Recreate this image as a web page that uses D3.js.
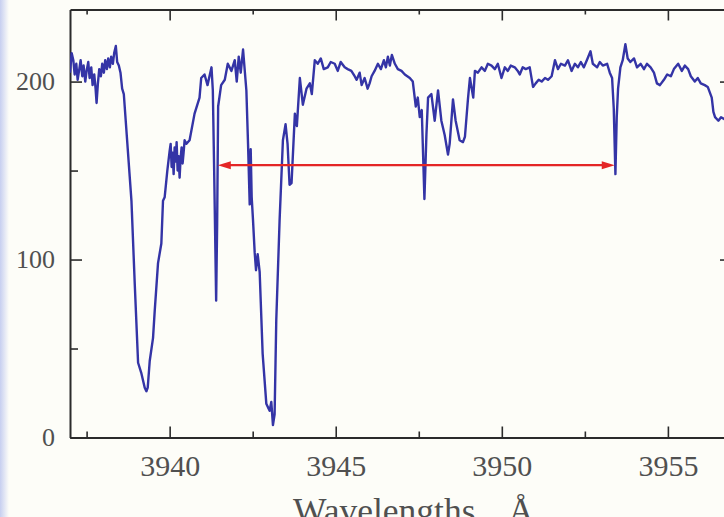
<!DOCTYPE html>
<html>
<head>
<meta charset="utf-8">
<script src="https://cdn.jsdelivr.net/npm/d3@7"></script>
<style>
  html, body { margin: 0; padding: 0; background: #fdfdf8; overflow: hidden; }
  svg { display: block; }
</style>
</head>
<body>
<svg id="chart" width="724" height="517"></svg>
<script>
// Spectrum samples: wavelength (Å) and intensity
const wavelength = [
  3937.00,3937.05,3937.10,3937.14,3937.19,3937.23,3937.28,3937.32,3937.37,3937.41,
  3937.46,3937.50,3937.55,3937.59,3937.64,3937.68,3937.73,3937.77,3937.80,3937.84,
  3937.88,3937.93,3937.97,3938.02,3938.06,3938.11,3938.15,3938.20,3938.24,3938.29,
  3938.33,3938.38,3938.42,3938.47,3938.52,3938.57,3938.62,3938.85,3938.95,3939.05,
  3939.15,3939.25,3939.30,3939.34,3939.40,3939.50,3939.55,3939.65,3939.75,3939.80,
  3939.85,3939.93,3940.00,3940.03,3940.06,3940.09,3940.12,3940.15,3940.18,3940.21,
  3940.24,3940.27,3940.30,3940.33,3940.36,3940.39,3940.42,3940.45,3940.50,3940.60,
  3940.75,3940.90,3940.95,3941.05,3941.14,3941.26,3941.30,3941.34,3941.40,3941.43,
  3941.46,3941.55,3941.66,3941.75,3941.86,3941.96,3942.02,3942.08,3942.14,3942.21,
  3942.31,3942.36,3942.41,3942.44,3942.47,3942.51,3942.56,3942.60,3942.65,3942.71,
  3942.80,3942.91,3943.01,3943.06,3943.11,3943.16,3943.21,3943.31,3943.41,3943.49,
  3943.55,3943.61,3943.67,3943.77,3943.83,3943.92,3944.01,3944.12,3944.22,3944.28,
  3944.37,3944.46,3944.55,3944.64,3944.76,3944.85,3944.97,3945.06,3945.15,3945.27,
  3945.36,3945.47,3945.57,3945.63,3945.72,3945.78,3945.87,3945.96,3946.02,3946.08,
  3946.17,3946.27,3946.36,3946.45,3946.51,3946.57,3946.63,3946.69,3946.78,3946.87,
  3946.98,3947.08,3947.23,3947.32,3947.41,3947.47,3947.53,3947.59,3947.67,3947.73,
  3947.78,3947.88,3947.98,3948.08,3948.18,3948.28,3948.38,3948.43,3948.53,3948.61,
  3948.73,3948.83,3948.89,3948.98,3949.04,3949.14,3949.19,3949.28,3949.39,3949.49,
  3949.58,3949.69,3949.79,3949.88,3949.99,3950.09,3950.18,3950.27,3950.39,3950.48,
  3950.54,3950.63,3950.72,3950.84,3950.94,3951.02,3951.11,3951.20,3951.30,3951.39,
  3951.50,3951.60,3951.69,3951.78,3951.90,3951.99,3952.10,3952.20,3952.29,3952.38,
  3952.47,3952.56,3952.67,3952.74,3952.87,3952.95,3953.04,3953.17,3953.25,3953.32,
  3953.37,3953.42,3953.46,3953.50,3953.57,3953.64,3953.72,3953.79,3953.87,3953.98,
  3954.07,3954.18,3954.28,3954.37,3954.48,3954.58,3954.67,3954.76,3954.88,3954.98,
  3955.09,3955.18,3955.31,3955.42,3955.51,3955.61,3955.69,3955.81,3955.90,3955.99,
  3956.11,3956.20,3956.32,3956.37,3956.42,3956.52,3956.60,3956.69,3956.78
];
const intensity = [
  205,216,212,204,210,201,207,212,203,209,
  200,206,211,202,208,198,204,196,188,199,
  207,203,210,205,212,207,213,208,214,210,
  216,220,211,209,205,196,193,133,86,42,
  36,28,26,28,43,56,71,98,109,133,
  135,150,161,165,152,160,148,163,155,166,
  150,158,146,157,163,154,160,167,165,167,
  182,191,202,204,198,208,195,150,77,120,
  186,198,201,210,206,212,200,214,205,218,
  195,165,131,162,135,122,104,94,103,93,
  47,19,15,20,7,13,66,122,167,176,
  165,142,143,182,175,202,187,196,199,193,
  212,210,213,207,208,211,210,206,211,208,
  207,206,203,201,205,198,202,196,199,203,
  206,210,207,212,208,214,209,215,210,207,
  206,204,202,200,186,191,180,184,134,170,
  191,193,178,195,178,170,159,165,190,178,
  167,166,169,190,202,191,206,205,208,206,
  210,209,207,210,202,208,206,209,208,206,
  204,208,207,208,197,199,201,200,202,201,
  203,212,207,210,209,212,206,210,208,211,
  208,212,217,210,208,211,209,210,205,202,
  185,148,180,196,208,212,221,213,211,213,
  208,210,207,210,208,205,199,198,201,204,
  203,207,210,206,209,207,203,200,202,199,
  198,197,191,183,180,178,180,179,180
];

// Axis ticks
const xMajorTicks = [3940, 3945, 3950, 3955];
const xMinorTicks = [3937.5, 3942.5, 3947.5, 3952.5];
const yMajorTicks = [0, 100, 200];
const yMinorTicks = [50, 150];

// Separation marker between the two absorption features
const arrowFrom = 3941.45;
const arrowTo = 3953.40;
const arrowLevel = 153;

const xDomain = [3937, 3956.93];
const yDomain = [0, 240.5];

const svg = d3.select("#chart");
const plotLeft = 70, plotRight = 732, plotTop = 9.5, plotBottom = 437.5;

const x = d3.scaleLinear().domain(xDomain).range([plotLeft, plotRight]);
const y = d3.scaleLinear().domain(yDomain).range([plotBottom, plotTop]);

// faint bluish edge on the left of the canvas
const defs = svg.append("defs");
const grad = defs.append("linearGradient").attr("id", "edge").attr("x1", 0).attr("x2", 1);
grad.append("stop").attr("offset", 0).attr("stop-color", "#b9c3ee").attr("stop-opacity", 0.8);
grad.append("stop").attr("offset", 1).attr("stop-color", "#b9c3ee").attr("stop-opacity", 0);
svg.append("rect").attr("x", 0).attr("y", 0).attr("width", 9).attr("height", 517).attr("fill", "url(#edge)");

defs.append("clipPath").attr("id", "plot")
  .append("rect").attr("x", plotLeft).attr("y", plotTop)
  .attr("width", plotRight - plotLeft).attr("height", plotBottom - plotTop);

const axisColor = "#2b2b2b";
const labelColor = "#505050";
const serif = "Liberation Serif, Times New Roman, serif";

function styleAxis(g) {
  g.selectAll("path").attr("stroke", axisColor).attr("stroke-width", 2);
  g.selectAll("line").attr("stroke", axisColor).attr("stroke-width", 1.6);
  g.selectAll("text").attr("fill", labelColor).attr("font-family", serif);
}

// bottom axis (inward ticks)
const gB = svg.append("g").attr("transform", `translate(0,${plotBottom})`)
  .call(d3.axisBottom(x).tickValues(xMajorTicks).tickSizeInner(-11).tickSizeOuter(0).tickPadding(17).tickFormat(d3.format("d")));
gB.selectAll("text").attr("font-size", 30);
styleAxis(gB);
const gBm = svg.append("g").attr("transform", `translate(0,${plotBottom})`)
  .call(d3.axisBottom(x).tickValues(xMinorTicks).tickSizeInner(-6).tickSizeOuter(0).tickFormat(""));
gBm.select("path").remove();
styleAxis(gBm);

// top axis
const gT = svg.append("g").attr("transform", `translate(0,${plotTop})`)
  .call(d3.axisTop(x).tickValues(xMajorTicks).tickSizeInner(-11).tickSizeOuter(0).tickFormat(""));
styleAxis(gT);
const gTm = svg.append("g").attr("transform", `translate(0,${plotTop})`)
  .call(d3.axisTop(x).tickValues(xMinorTicks).tickSizeInner(-5).tickSizeOuter(0).tickFormat(""));
gTm.select("path").remove();
styleAxis(gTm);

// left axis
const gL = svg.append("g").attr("transform", `translate(${plotLeft},0)`)
  .call(d3.axisLeft(y).tickValues(yMajorTicks).tickSizeInner(-12).tickSizeOuter(0).tickPadding(15));
gL.selectAll("text").attr("font-size", 26);
styleAxis(gL);
const gLm = svg.append("g").attr("transform", `translate(${plotLeft},0)`)
  .call(d3.axisLeft(y).tickValues(yMinorTicks).tickSizeInner(-8).tickSizeOuter(0).tickFormat(""));
gLm.select("path").remove();
styleAxis(gLm);

// right axis
const gR = svg.append("g").attr("transform", `translate(${plotRight},0)`)
  .call(d3.axisRight(y).tickValues(yMajorTicks).tickSizeInner(-12).tickSizeOuter(0).tickFormat(""));
styleAxis(gR);
const gRm = svg.append("g").attr("transform", `translate(${plotRight},0)`)
  .call(d3.axisRight(y).tickValues(yMinorTicks).tickSizeInner(-8).tickSizeOuter(0).tickFormat(""));
gRm.select("path").remove();
styleAxis(gRm);

// axis title (runs past the lower edge of the canvas)
const title = svg.append("text")
  .attr("x", 293).attr("y", 523)
  .attr("font-family", serif)
  .attr("font-size", 35.5).attr("fill", labelColor);
title.append("tspan").text("Wavelengths,");
title.append("tspan").attr("x", 521).attr("text-anchor", "middle").text("Å");

// spectrum
const pts = wavelength.map((w, i) => [w, intensity[i]]);
svg.append("path")
  .datum(pts)
  .attr("clip-path", "url(#plot)")
  .attr("fill", "none")
  .attr("stroke", "#3434a6")
  .attr("stroke-width", 2.4)
  .attr("stroke-linejoin", "round")
  .attr("d", d3.line().x(d => x(d[0])).y(d => y(d[1])));

// double-headed red arrow
const ax0 = x(arrowFrom), ax1 = x(arrowTo), ay = y(arrowLevel);
const red = "#e42626";
svg.append("line").attr("x1", ax0 + 6).attr("x2", ax1 - 6).attr("y1", ay).attr("y2", ay)
  .attr("stroke", red).attr("stroke-width", 2.2);
const headLen = 13, headHalf = 4;
svg.append("path")
  .attr("d", `M${ax0},${ay} L${ax0 + headLen},${ay - headHalf} L${ax0 + headLen},${ay + headHalf} Z`)
  .attr("fill", red);
svg.append("path")
  .attr("d", `M${ax1},${ay} L${ax1 - headLen},${ay - headHalf} L${ax1 - headLen},${ay + headHalf} Z`)
  .attr("fill", red);
</script>
</body>
</html>
